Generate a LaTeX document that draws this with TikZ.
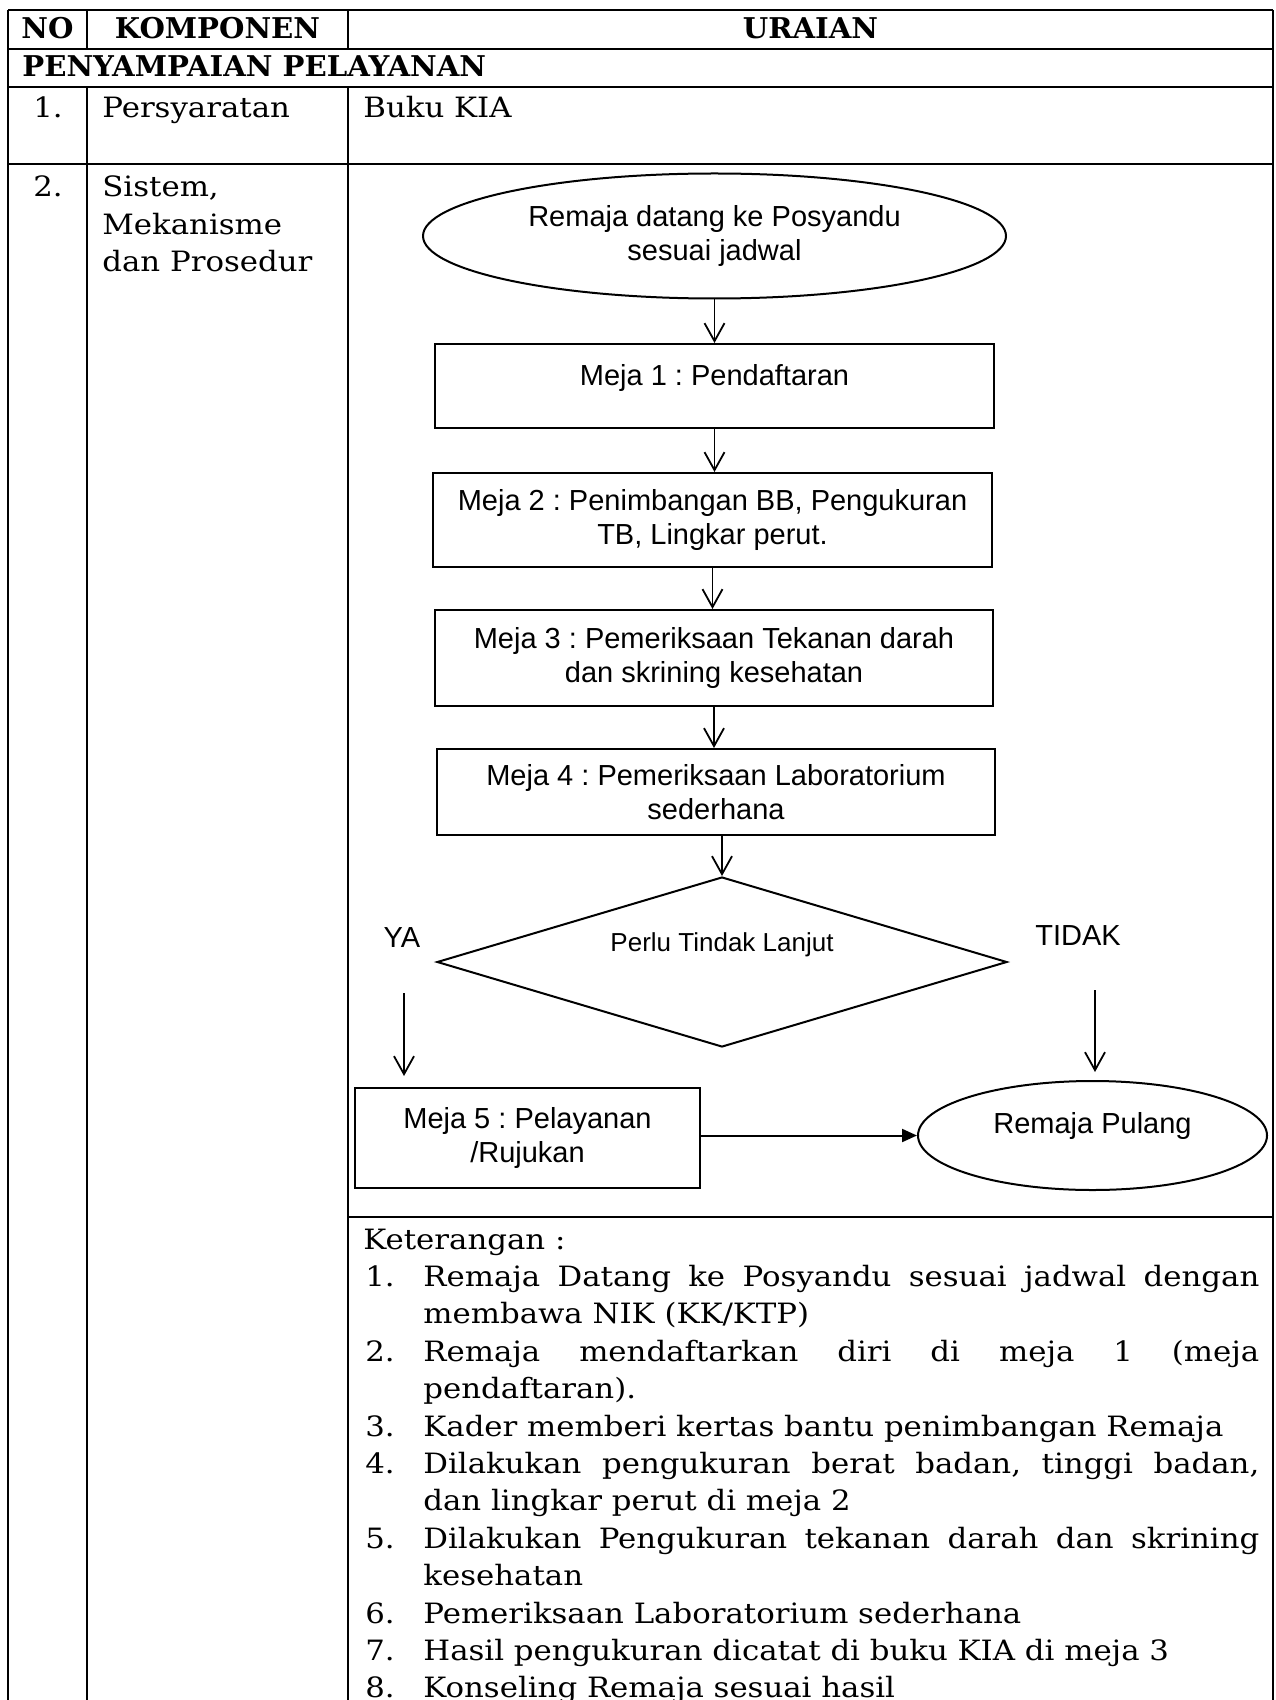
\documentclass[tikz,border=0pt]{standalone}
\usepackage{fontspec}
\setmainfont{DejaVu Serif}[FakeStretch=1.1]
\newfontfamily\hdrfont{DejaVu Serif}[FakeStretch=1.02]
\newfontfamily\flowfont{Liberation Sans}
\usetikzlibrary{shapes.geometric,arrows.meta}
\frenchspacing
\begin{document}
\frenchspacing
\begin{tikzpicture}[x=0.5pt,y=-0.5pt,
  tline/.style={line width=1.1pt},
  fshape/.style={draw, line width=1pt, inner sep=0pt, font=\flowfont\fontsize{14.5}{16.7}\selectfont, align=center},
  rbox/.style={fshape, rectangle},
  ebox/.style={fshape, ellipse},
  dbox/.style={fshape, diamond, shape aspect=3.35, font=\flowfont\fontsize{13}{15}\selectfont},
  arr/.style={-{Straight Barb[length=9pt,width=10pt]}, line width=0.9pt},
  farr/.style={-{Triangle[length=7.5pt,width=6.5pt]}, line width=1pt},
  txt/.style={inner sep=0pt, font=\fontsize{14}{18.7}\selectfont},
  hdr/.style={inner sep=0pt, font=\hdrfont\bfseries\fontsize{14.3}{18.7}\selectfont},
  flab/.style={inner sep=0pt, font=\flowfont\fontsize{14.5}{16.7}\selectfont},
]
\useasboundingbox (0,0) rectangle (1275,1700);

% ---------- table grid ----------
\draw[tline] (8,10) -- (1273,10);
\draw[tline] (8,49) -- (1273,49);
\draw[tline] (8,87) -- (1273,87);
\draw[tline] (8,164) -- (1273,164);
\draw[tline] (348,1217) -- (1273,1217);
\draw[tline] (8,10) -- (8,1700);
\draw[tline] (1273,10) -- (1273,1700);
\draw[tline] (87,10) -- (87,49);
\draw[tline] (348,10) -- (348,49);
\draw[tline] (87,87) -- (87,1700);
\draw[tline] (348,87) -- (348,1700);

% ---------- table text ----------
\node[hdr, anchor=base] (hno) at (47.5,39) {NO};
\node[hdr, anchor=base] (hkomp) at (217.5,39) {KOMPONEN};
\node[hdr, anchor=base] (hurai) at (810.5,39) {URAIAN};
\node[hdr, anchor=base west] (hsec) at (22,77) {PENYAMPAIAN PELAYANAN};
\node[txt, anchor=base] (n1) at (48,118) {1.};
\node[txt, anchor=base west] (k1) at (102,118) {Persyaratan};
\node[txt, anchor=base west] (u1) at (363,118) {Buku KIA};
\node[txt, anchor=base] (n2) at (48,197) {2.};
\node[txt, anchor=base west] (k2a) at (102,197) {Sistem,};
\node[txt, anchor=base west] (k2b) at (102,234.4) {Mekanisme};
\node[txt, anchor=base west] (k2c) at (102,271.8) {dan Prosedur};

% ---------- flowchart ----------
\node[ebox, minimum width=291.5pt, minimum height=62.5pt] (e1) at (714.5,236) {Remaja datang ke Posyandu\\sesuai jadwal};
\node[rbox, minimum width=279.5pt, minimum height=42pt, text height=10.5pt, text depth=11pt] (b1) at (714.5,386) {Meja 1 : Pendaftaran};
\node[rbox, minimum width=279.5pt, minimum height=47pt] (b2) at (712.5,520) {Meja 2 : Penimbangan BB, Pengukuran\\TB, Lingkar perut.};
\node[rbox, minimum width=279pt, minimum height=48pt] (b3) at (714,658) {Meja 3 : Pemeriksaan Tekanan darah\\dan skrining kesehatan};
\node[rbox, minimum width=279pt, minimum height=43pt] (b4) at (716,792) {Meja 4 : Pemeriksaan Laboratorium\\sederhana};
\node[dbox, minimum width=285pt, minimum height=85pt, text height=9.5pt, text depth=20pt] (d) at (722,962) {Perlu Tindak Lanjut};
\node[rbox, minimum width=172.5pt, minimum height=50pt] (b5) at (527.5,1138) {Meja 5 : Pelayanan\\/Rujukan};
\node[ebox, minimum width=174.5pt, minimum height=54.5pt, text height=10.5pt, text depth=12.6pt] (pulang) at (1092.5,1135.5) {Remaja Pulang};

\node[flab, anchor=base] (ya) at (402,947) {YA};
\node[flab, anchor=base] (tidak) at (1078,945) {TIDAK};

\draw[arr] (e1.south) -- (b1.north);
\draw[arr] (b1.south) -- (b1.south |- b2.north);
\draw[arr] (b2.south) -- (b2.south |- b3.north);
\draw[arr] (b3.south) -- (b3.south |- b4.north);
\draw[arr] (d.north |- b4.south) -- (d.north);

\coordinate (yas) at (404,993);
\coordinate (tds) at (1095,990);
\draw[arr, shorten >=5.5pt] (yas) -- (yas |- b5.north);
\draw[arr, shorten >=4pt] (tds) -- (tds |- pulang.north);
\draw[farr] (b5.east |- pulang.west) -- (pulang.west);

% ---------- keterangan ----------
\node[txt, anchor=base west] (ket) at (363,1249) {Keterangan :};
\node[txt, anchor=base west] (i1n) at (365,1286.4) {1.};
\node[txt, anchor=base west] (i1a) at (423,1286.4) {\makebox[418pt][s]{Remaja Datang ke Posyandu sesuai jadwal dengan}};
\node[txt, anchor=base west] (i1b) at (423,1323.8) {membawa NIK (KK/KTP)};
\node[txt, anchor=base west] (i2n) at (365,1361.2) {2.};
\node[txt, anchor=base west] (i2a) at (423,1361.2) {\makebox[418pt][s]{Remaja mendaftarkan diri di meja 1 (meja}};
\node[txt, anchor=base west] (i2b) at (423,1398.6) {pendaftaran).};
\node[txt, anchor=base west] (i3n) at (365,1436) {3.};
\node[txt, anchor=base west] (i3a) at (423,1436) {Kader memberi kertas bantu penimbangan Remaja};
\node[txt, anchor=base west] (i4n) at (365,1473.4) {4.};
\node[txt, anchor=base west] (i4a) at (423,1473.4) {\makebox[418pt][s]{Dilakukan pengukuran berat badan, tinggi badan,}};
\node[txt, anchor=base west] (i4b) at (423,1510.8) {dan lingkar perut di meja 2};
\node[txt, anchor=base west] (i5n) at (365,1548.2) {5.};
\node[txt, anchor=base west] (i5a) at (423,1548.2) {\makebox[418pt][s]{Dilakukan Pengukuran tekanan darah dan skrining}};
\node[txt, anchor=base west] (i5b) at (423,1585.6) {kesehatan};
\node[txt, anchor=base west] (i6n) at (365,1623) {6.};
\node[txt, anchor=base west] (i6a) at (423,1623) {Pemeriksaan Laboratorium sederhana};
\node[txt, anchor=base west] (i7n) at (365,1660.4) {7.};
\node[txt, anchor=base west] (i7a) at (423,1660.4) {Hasil pengukuran dicatat di buku KIA di meja 3};
\node[txt, anchor=base west] (i8n) at (365,1697.8) {8.};
\node[txt, anchor=base west] (i8a) at (423,1697.8) {Konseling Remaja sesuai hasil};
\end{tikzpicture}
\end{document}
